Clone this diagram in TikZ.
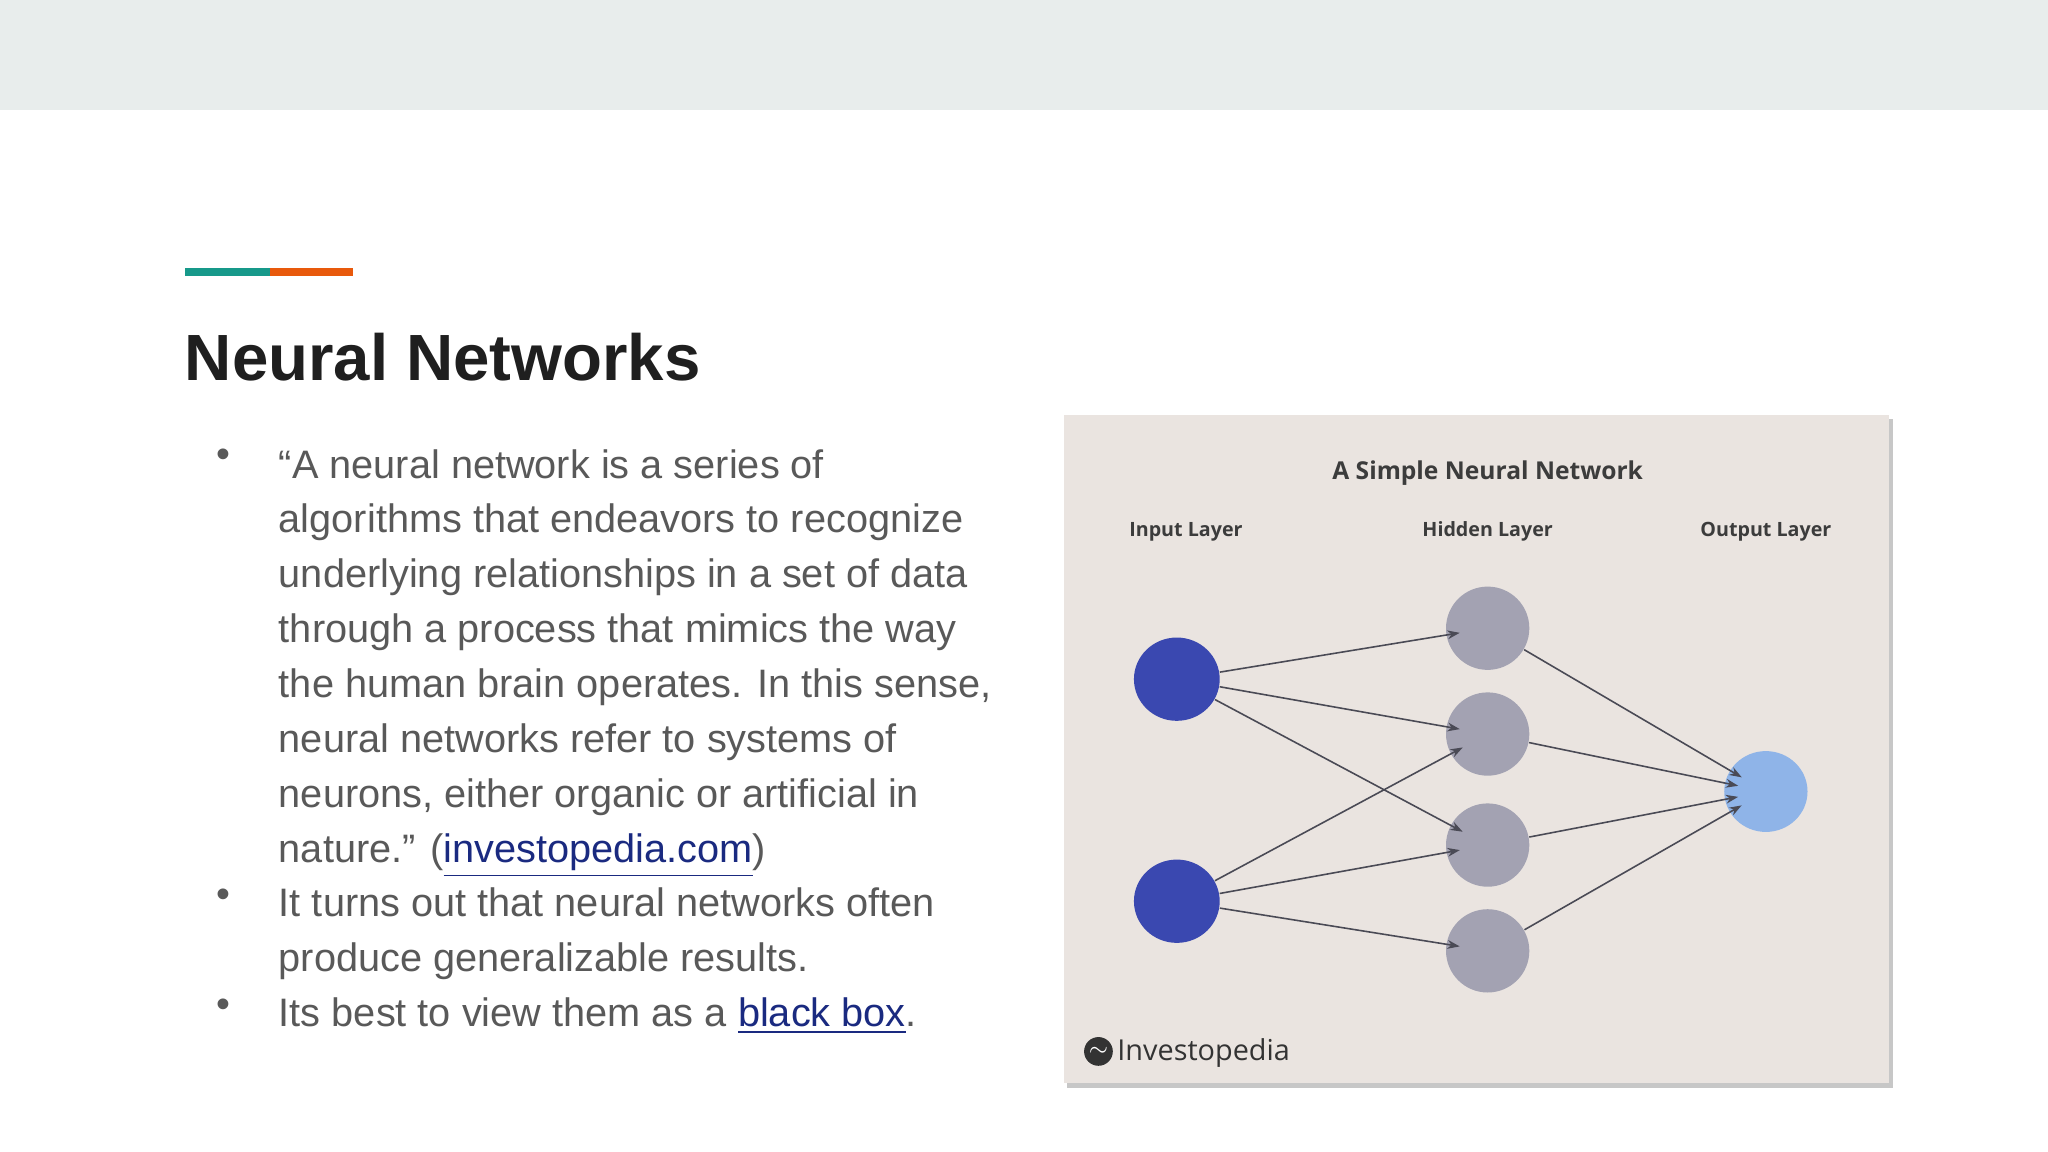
\documentclass[tikz,border=0pt]{standalone}
\usepackage{fontspec}
\setmainfont{Liberation Sans}
\newfontfamily\panelfont{Open Sans}
\usetikzlibrary{arrows.meta,shapes.geometric}
\definecolor{band}{HTML}{E8EDEC}
\definecolor{teal}{HTML}{17998A}
\definecolor{orng}{HTML}{E8590C}
\definecolor{bodyg}{HTML}{595959}
\definecolor{linkc}{HTML}{1A2A80}
\definecolor{panel}{HTML}{EAE4E0}
\definecolor{inc}{HTML}{3A48B0}
\definecolor{hidc}{HTML}{A3A2B2}
\definecolor{outc}{HTML}{8FB4E8}
\definecolor{edgec}{HTML}{4A4A55}
\definecolor{ptext}{HTML}{3C3C3C}
\newcommand{\lnk}[1]{\textcolor{linkc}{\underline{#1}}}
\tikzset{
  bodyline/.style={anchor=base west, inner sep=0pt, text=bodyg, font=\fontsize{11.3}{14}\selectfont},
  bul/.style={anchor=center, inner sep=0pt, text=bodyg, font=\fontsize{11.3}{14}\selectfont},
  inode/.style={ellipse, fill=inc, minimum width=24.4pt, minimum height=23.7pt, inner sep=0pt},
  hnode/.style={ellipse, fill=hidc, minimum width=23.7pt, minimum height=23.7pt, inner sep=0pt},
  onode/.style={ellipse, fill=outc, minimum width=23.7pt, minimum height=23pt, inner sep=0pt},
  edge/.style={draw=edgec, line width=0.45pt, -{Stealth[length=3.5pt,width=2.5pt]}, shorten >=-4pt},
  plabel/.style={text=ptext, font=\panelfont\bfseries\fontsize{5.6}{6}\selectfont},
}
\begin{document}
\begin{tikzpicture}[x=0.01306cm, y=-0.01306cm]
\useasboundingbox (0,0) rectangle (1568,882);
\fill[white] (0,0) rectangle (1568,882);
\fill[band] (0,0) rectangle (1568,84);
\fill[teal] (142,205) rectangle (207,211);
\fill[orng] (207,205) rectangle (270,211);
\node[anchor=base west, inner sep=0pt, font=\bfseries\fontsize{18.6}{22}\selectfont, text=black!88] (title) at (141,291) {Neural Networks};
% bullets
\node[bul] (b1) at (171,351) {•};
\node[bul] (b2) at (171,688) {•};
\node[bul] (b3) at (171,772) {•};
\node[bodyline] (l1) at (213,366) {“A neural network is a series of};
\node[bodyline] (l2) at (213,408) {algorithms that endeavors to recognize};
\node[bodyline] (l3) at (213,450) {underlying relationships in a set of data};
\node[bodyline] (l4) at (213,492) {through a process that mimics the way};
\node[bodyline] (l5) at (213,534) {the human brain operates. In this sense,};
\node[bodyline] (l6) at (213,576) {neural networks refer to systems of};
\node[bodyline] (l7) at (213,618) {neurons, either organic or artificial in};
\node[bodyline] (l8) at (213,660) {nature.” (\lnk{investopedia.com})};
\node[bodyline] (l9) at (213,702) {It turns out that neural networks often};
\node[bodyline] (l10) at (213,744) {produce generalizable results.};
\node[bodyline] (l11) at (213,786) {Its best to view them as a \lnk{black box}.};
% panel
\fill[black!22] (817,321) rectangle (1449,833);
\fill[panel] (815,318) rectangle (1446,829);
\node[text=ptext, font=\panelfont\bfseries\fontsize{7}{8}\selectfont] (ptitle) at (1139,362) {A Simple Neural Network};
\node[plabel] (lin) at (908,407) {Input Layer};
\node[plabel] (lhid) at (1139,407) {Hidden Layer};
\node[plabel] (lout) at (1352,407) {Output Layer};
\node[inode] (i1) at (901,520) {};
\node[inode] (i2) at (901,690) {};
\node[hnode] (h1) at (1139,481) {};
\node[hnode] (h2) at (1139,562) {};
\node[hnode] (h3) at (1139,647) {};
\node[hnode] (h4) at (1139,728) {};
\node[onode] (o) at (1352,606) {};
\path[edge] (i1) -- (h1);
\path[edge] (i1) -- (h2);
\path[edge] (i1) -- (h3);
\path[edge] (i2) -- (h2);
\path[edge] (i2) -- (h3);
\path[edge] (i2) -- (h4);
\path[edge] (h1) -- (o);
\path[edge] (h2) -- (o);
\path[edge] (h3) -- (o);
\path[edge] (h4) -- (o);
\fill[black!80] (841,805) circle (11);
\node[text=white, font=\panelfont\bfseries\fontsize{6}{6}\selectfont] (logo) at (841,805) {$\sim$};
\node[anchor=west, inner sep=0pt, text=black!80, font=\panelfont\fontsize{8.2}{9}\selectfont] (brand) at (855,806) {Investopedia};
\end{tikzpicture}
\end{document}
